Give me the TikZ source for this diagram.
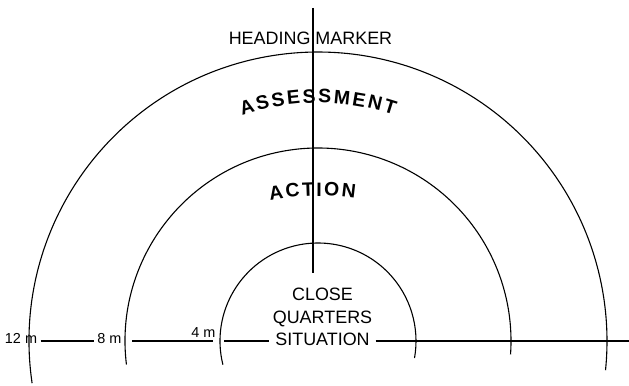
\documentclass[tikz,border=0pt]{standalone}
\usepackage{fontspec}
\setmainfont{Liberation Sans}
\usetikzlibrary{calc,decorations.text}
\def\ringarc(#1)(#2:#3:#4){\draw[ring] (#1) ++(#2:#4) arc[start angle=#2, end angle=#3, radius=#4];}
\def\zonefont{\bfseries\fontsize{19.5}{19.5}\selectfont}
\tikzset{
  ring/.style={line width=1.1bp},
  scaleline/.style={line width=1.6bp},
  headline/.style={line width=1.8bp},
  dist/.style={font=\fontsize{14.5}{17}\selectfont, anchor=base},
  zonetext/.style={font=\fontsize{18}{22.5}\selectfont}
}
\begin{document}
\begin{tikzpicture}[x=1bp, y=1bp]
			%%%%% START %%%%%
			\fill[white] (0,0) rectangle (629,385);
			\useasboundingbox (0,0) rectangle (629,385);
			\coordinate (c) at (318,44);
			
			% the three rings
			\ringarc(c)(194:-10:98);
			\ringarc(c)(187:-4:193);
			\ringarc(c)(188.4:-5.8:289);
			
			% heading marker
			\coordinate (hdtop) at (313,377);
			\coordinate (hdbot) at (313,112);
			\draw[headline] (hdtop) -- (hdbot);
			\node[zonetext, anchor=base] (head) at (310.5,341) {HEADING MARKER};
			
			% zone names
			\path[decorate, decoration={text along path, text align={fit to path},
				text={|\zonefont|ASSESSMENT}}] (c) ++(108.6:238) arc[start angle=108.6, end angle=71.4, radius=238];
			\path[decorate, decoration={text along path, text align={fit to path},
				text={|\zonefont|ACTION}}] (318,-71) ++(100.6:260) arc[start angle=100.6, end angle=81.8, radius=260];
			\node[zonetext, align=center] (cqs) at (322.5,68) {CLOSE\\QUARTERS\\SITUATION};
			
			% distance scale
			\node[dist] (m12) at (21,42) {12 m};
			\node[dist] (m8) at (109.5,42) {8 m};
			\node[dist] (m4) at (203.5,48) {4 m};
			\draw[scaleline] (m12.east |- c) -- (m8.west |- c);
			\draw[scaleline] (132,44) -- (213,44);
			\draw[scaleline] (224,44) -- (cqs.west |- c);
			\draw[scaleline] (cqs.east |- c) -- (629,44);
			%%%%% END %%%%%
\end{tikzpicture}
\end{document}
